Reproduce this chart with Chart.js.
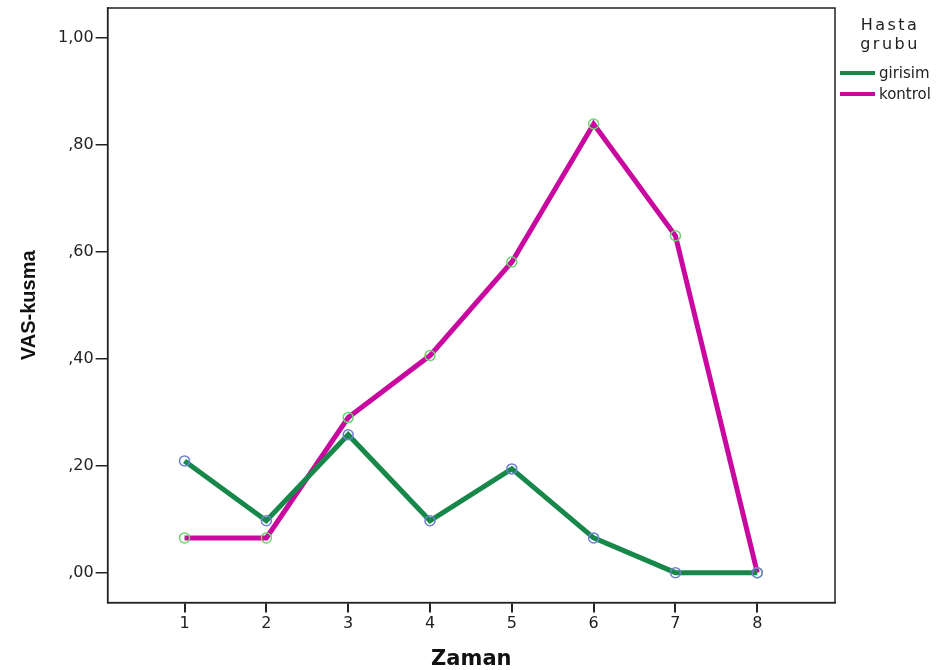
<!DOCTYPE html>
<html>
<head>
<meta charset="utf-8">
<script src="https://cdn.jsdelivr.net/npm/chart.js@4/dist/chart.umd.min.js"></script>
<style>
  html, body { margin: 0; padding: 0; background: #fff; }
</style>
</head>
<body>
<canvas id="vasChart" width="941" height="670"></canvas>
<script>
// Zaman noktaları ve grup ortalamaları
const zaman = [1, 2, 3, 4, 5, 6, 7, 8];
const girisim = [0.209, 0.097, 0.258, 0.097, 0.194, 0.065, 0, 0];
const kontrol = [0.065, 0.065, 0.290, 0.406, 0.581, 0.839, 0.630, 0];
const yTicks = [0, 0.2, 0.4, 0.6, 0.8, 1.0];
const grupAdlari = ['girisim', 'kontrol'];
const renkler = ['#17884a', '#c8089e'];
const noktaRenkleri = ['#6d80d2', '#6cd46e'];

const fmt = v => {
    const s = v.toFixed(2).replace('.', ',');
    return s.startsWith('0') ? s.slice(1) : s;
};

// Çerçeve ve sağdaki açıklama
const kutuPlugin = {
    id: 'kutu',
    afterDraw(chart) {
        const { ctx, chartArea: a } = chart;
        ctx.save();
        ctx.strokeStyle = '#222';
        ctx.lineWidth = 1.5;
        ctx.strokeRect(a.left, a.top, a.right - a.left, a.bottom - a.top);

        ctx.fillStyle = '#222';
        ctx.font = '16px "DejaVu Sans", sans-serif';
        ctx.letterSpacing = '2.5px';
        ctx.textAlign = 'center';
        ctx.textBaseline = 'middle';
        ctx.fillText('Hasta', 890, 26);
        ctx.fillText('grubu', 890, 45);
        ctx.letterSpacing = '0px';
        ctx.textAlign = 'left';
        ctx.font = '15px "DejaVu Sans", sans-serif';
        grupAdlari.forEach((ad, i) => {
            const y = 73 + i * 21;
            ctx.strokeStyle = renkler[i];
            ctx.lineWidth = 4;
            ctx.beginPath();
            ctx.moveTo(840, y);
            ctx.lineTo(875, y);
            ctx.stroke();
            ctx.fillText(ad, 879, y + 1);
        });
        ctx.restore();
    }
};

const ctx = document.getElementById('vasChart').getContext('2d');
new Chart(ctx, {
    type: 'line',
    data: {
        datasets: [girisim, kontrol].map((seri, i) => ({
            label: grupAdlari[i],
            data: seri.map((v, j) => ({ x: zaman[j], y: v })),
            borderColor: renkler[i],
            borderWidth: 5,
            pointRadius: 5,
            pointBorderWidth: 1.5,
            pointBorderColor: noktaRenkleri[i],
            pointBackgroundColor: 'rgba(0,0,0,0)',
            tension: 0
        }))
    },
    options: {
        responsive: false,
        animation: false,
        layout: { padding: { top: 8, right: 106, bottom: -2, left: 17 } },
        plugins: { legend: { display: false }, tooltip: { enabled: false } },
        scales: {
            x: {
                type: 'linear',
                min: 0.06,
                max: 8.95,
                afterBuildTicks: s => { s.ticks = zaman.map(v => ({ value: v })); },
                ticks: {
                    color: '#222',
                    font: { size: 16, family: '"DejaVu Sans", sans-serif' },
                    padding: 2,
                    callback: v => String(v)
                },
                grid: { drawOnChartArea: false, drawTicks: true, tickLength: 10, color: '#222', lineWidth: 2 },
                border: { display: true, color: '#222', width: 1.5 },
                title: {
                    display: true,
                    text: 'Zaman',
                    color: '#111',
                    font: { size: 21, weight: 'bold', family: '"DejaVu Sans", sans-serif' },
                    padding: { top: 11, bottom: 0 }
                }
            },
            y: {
                type: 'linear',
                min: -0.056,
                max: 1.056,
                afterBuildTicks: s => { s.ticks = yTicks.map(v => ({ value: v })); },
                afterFit: s => { s.paddingTop = 0; s.paddingBottom = 0; },
                ticks: {
                    color: '#222',
                    font: { size: 16, family: '"DejaVu Sans", sans-serif' },
                    padding: 2,
                    callback: v => fmt(v)
                },
                grid: { drawOnChartArea: false, drawTicks: true, tickLength: 12, color: '#222', lineWidth: 1.5 },
                border: { display: true, color: '#222', width: 1.5 },
                title: {
                    display: true,
                    text: 'VAS-kusma',
                    color: '#111',
                    font: { size: 20, weight: 'bold', family: '"Liberation Sans", Arial, sans-serif' },
                    padding: { top: 0, bottom: 15 }
                }
            }
        }
    },
    plugins: [kutuPlugin]
});
</script>
</body>
</html>
